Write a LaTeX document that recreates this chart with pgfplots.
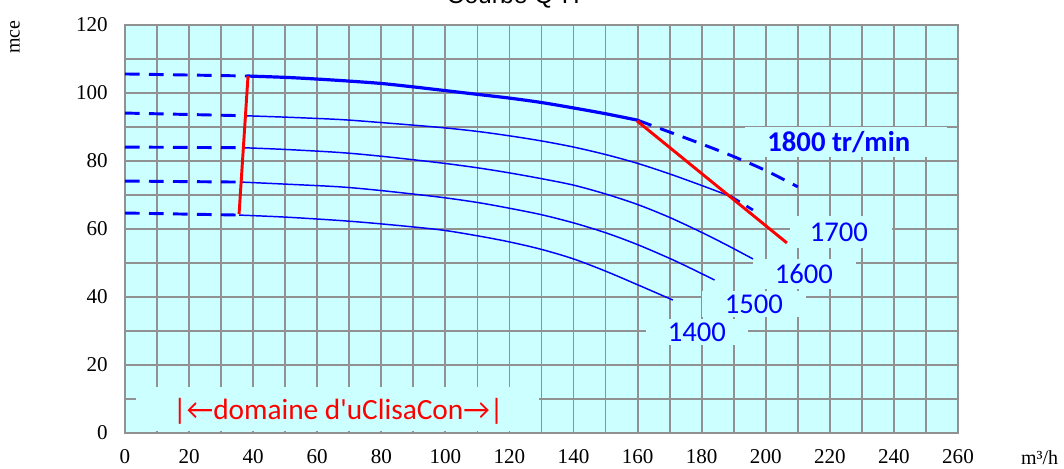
\documentclass[border=0pt]{standalone}
\usepackage{pgfplots}
\pgfplotsset{compat=1.18}
\usepackage{fontspec}
\setmainfont{Liberation Serif}
\newfontfamily\carlito{Carlito}
\newfontfamily\arial{Liberation Sans}
\newfontfamily\dejavu{DejaVu Sans}

\definecolor{fond}{RGB}{204,255,255}
\definecolor{grille}{RGB}{145,145,145}
\definecolor{bleu}{RGB}{0,0,255}
\definecolor{rouge}{RGB}{255,0,0}

\begin{document}
\begin{tikzpicture}
\begin{axis}[
    name=qh,
    scale only axis,
    width=624.75pt, height=306pt,
    xmin=0, xmax=260, ymin=0, ymax=120,
    xtick={0,20,...,260},
    ytick={0,20,...,120},
    minor xtick={10,30,...,250},
    minor ytick={10,30,...,110},
    grid=both,
    major grid style={grille, line width=1.35pt},
    minor grid style={grille, line width=1.35pt},
    major tick length=0pt, minor tick length=0pt,
    axis line style={grille, line width=1.7pt},
    axis background/.style={fill=fond},
    tick label style={font=\fontsize{15.8}{17}\selectfont},
    /pgf/number format/assume math mode=true,
    xticklabel style={yshift=-8.5pt},
    yticklabel style={xshift=-9.5pt},
    clip=false,
]
% boites des etiquettes
\node[fill=fond, inner sep=0pt, minimum width=151.5pt, minimum height=22pt] at (axis cs:225,85.6) {};
\node[fill=fond, inner sep=0pt, minimum width=77pt, minimum height=24pt] at (axis cs:223.5,59.1) {};
\node[fill=fond, inner sep=0pt, minimum width=77pt, minimum height=22pt] at (axis cs:212,46.8) {};
\node[fill=fond, inner sep=0pt, minimum width=78pt, minimum height=20pt] at (axis cs:196.3,37.9) {};
\node[fill=fond, inner sep=0pt, minimum width=76.5pt, minimum height=20pt] at (axis cs:178.5,29.7) {};
\node[fill=fond, inner sep=0pt, minimum width=302pt, minimum height=33pt, anchor=south west] at (axis cs:3.3,0.45) {};

% 1800 tr/min
\addplot[bleu, line width=2.2pt, dash pattern=on 11pt off 7pt] coordinates {(0,105.6) (38,105.0)};
\addplot[bleu, line width=2.4pt, smooth, tension=0.5] coordinates {
    (38,105.0) (50,104.6) (60,104.1) (70,103.5) (80,102.8) (90,101.8) (100,100.7)
    (110,99.6) (120,98.5) (130,97.2) (140,95.6) (150,93.9) (160,92.0)};
\addplot[bleu, line width=2.2pt, dash pattern=on 11pt off 7pt, smooth, tension=0.5] coordinates {
    (160,92.0) (170,88.5) (180,85.0) (190,81.3) (200,77.2) (210,72.4)};

% 1700
\addplot[bleu, line width=2.2pt, dash pattern=on 11pt off 7pt] coordinates {(0,94.1) (37.6,93.3)};
\addplot[bleu, line width=1.1pt, smooth, tension=0.5] coordinates {
    (37.6,93.3) (50,92.9) (67,92.2) (80,91.3) (98,89.9) (110,88.7) (120,87.4)
    (130,85.9) (140,84.1) (150,81.9) (160,79.3) (170,76.2) (180,72.8) (189,69.6)};
\addplot[bleu, line width=2pt, dash pattern=on 8pt off 6pt] coordinates {(189,69.6) (196,65.6)};

% 1600
\addplot[bleu, line width=2.2pt, dash pattern=on 11pt off 7pt] coordinates {(0,84.1) (37,83.9)};
\addplot[bleu, line width=1.1pt, smooth, tension=0.5] coordinates {
    (37,83.9) (50,83.4) (67,82.5) (80,81.4) (98,79.5) (110,78.0) (120,76.5)
    (130,74.8) (140,72.9) (150,70.3) (160,67.2) (170,63.4) (180,59.0) (188,55.2) (196,51.2)};

% 1500
\addplot[bleu, line width=2.2pt, dash pattern=on 11pt off 7pt] coordinates {(0,74.1) (36.3,73.8)};
\addplot[bleu, line width=1.1pt, smooth, tension=0.5] coordinates {
    (36.3,73.8) (50,73.2) (67,72.4) (80,71.3) (98,69.4) (110,67.8) (120,66.1)
    (130,64.2) (140,61.8) (150,58.9) (160,55.4) (172,50.5) (184,45.0)};

% 1400
\addplot[bleu, line width=2.2pt, dash pattern=on 11pt off 7pt] coordinates {(0,64.7) (35.6,64.1)};
\addplot[bleu, line width=1.1pt, smooth, tension=0.5] coordinates {
    (35.6,64.1) (50,63.5) (67,62.5) (80,61.5) (98,59.8) (110,58.0) (120,56.2)
    (130,54.0) (140,51.2) (150,47.6) (160,43.6) (171,39.1)};

% limites rouges
\addplot[rouge, line width=2.2pt] coordinates {(38.4,105.0) (35.6,64.4)};
\addplot[rouge, line width=2.2pt] coordinates {(159.8,91.8) (206.6,55.9)};

% etiquettes
\node[bleu, font=\carlito\bfseries\fontsize{21.5}{24}\selectfont] at (axis cs:222.8,85.6) {1800 tr/min};
\node[bleu, font=\carlito\fontsize{21.5}{24}\selectfont] at (axis cs:222.8,59.1) {1700};
\node[bleu, font=\carlito\fontsize{21.5}{24}\selectfont] at (axis cs:211.9,46.8) {1600};
\node[bleu, font=\carlito\fontsize{21.5}{24}\selectfont] at (axis cs:196.3,37.9) {1500};
\node[bleu, font=\carlito\fontsize{21.5}{24}\selectfont] at (axis cs:178.5,29.7) {1400};
\node[rouge, font=\carlito\fontsize{22}{24}\selectfont] at (axis cs:66.6,6.3) {|←domaine d'uClisaCon→|};

% titres
\node[anchor=base, font=\arial\fontsize{18.5}{20}\selectfont] at (axis description cs:0.466,1.0515) {Courbe Q-H};
\node[rotate=90, font=\fontsize{15}{16}\selectfont] at (axis description cs:-0.132,0.97) {mce};
\node[font=\fontsize{15}{16}\selectfont] at (axis description cs:1.098,-0.061) {m³/h};
\end{axis}
\pgfresetboundingbox
\path[use as bounding box] (-93.75pt,-26.25pt) rectangle (704.25pt,324.75pt);
\end{tikzpicture}
\end{document}
